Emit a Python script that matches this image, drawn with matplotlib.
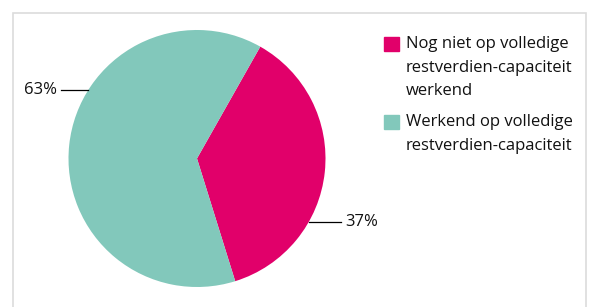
import numpy as np
import matplotlib.pyplot as plt
from matplotlib.patches import Rectangle

plt.rcParams['font.family'] = ['Open Sans', 'DejaVu Sans']

labels = ["Nog niet op volledige\nrestverdien-capaciteit\nwerkend",
          "Werkend op volledige\nrestverdien-capaciteit"]
values = [37, 63]
colors = ['#e1006a', '#82c8bb']
label_angles = [-29.6, 147.8]   # where the leader lines leave the pie
line_ends = [1.12, -1.058]

W, H = 589, 307
fig = plt.figure(figsize=(W / 100, H / 100), dpi=100)

# light frame around the chart (bottom edge runs off the image)
fig.patches.append(Rectangle((13 / W, -0.1), (586 - 13) / W, (H - 13) / H + 0.1,
                             transform=fig.transFigure, fill=False,
                             edgecolor='#dcdcdc', linewidth=1.2))

cx, cy, r = 197, 158.5, 128.5
ax = fig.add_axes([(cx - r) / W, (H - cy - r) / H, 2 * r / W, 2 * r / H])
wedges, _ = ax.pie(values, colors=colors, startangle=60.5, counterclock=False,
                   radius=1, wedgeprops=dict(linewidth=0))
ax.set_xlim(-1, 1)
ax.set_ylim(-1, 1)
ax.set_aspect('equal')
ax.axis('off')

for v, a, x1 in zip(values, label_angles, line_ends):
    t = np.deg2rad(a)
    x0, y0 = np.cos(t), np.sin(t)
    side = 1 if x0 > 0 else -1
    ax.plot([x0, x1], [y0, y0], color='black', lw=0.9, clip_on=False)
    ax.text(x1 + side * 0.035, y0, f"{v}%", ha='left' if side > 0 else 'right',
            va='center', fontsize=12, color='#111111')

# legend drawn by hand so the swatch sits on the first line
ytops = [37, 115]
for lab, c, yt in zip(labels, colors, ytops):
    fig.patches.append(Rectangle((384 / W, 1 - (yt + 14) / H), 15 / W, 14 / H,
                                 transform=fig.transFigure, color=c))
    fig.text(406 / W, 1 - (yt - 1) / H, lab, ha='left', va='top',
             fontsize=12, linespacing=1.64, color='#111111')

fig.savefig('out.png', dpi=100)
